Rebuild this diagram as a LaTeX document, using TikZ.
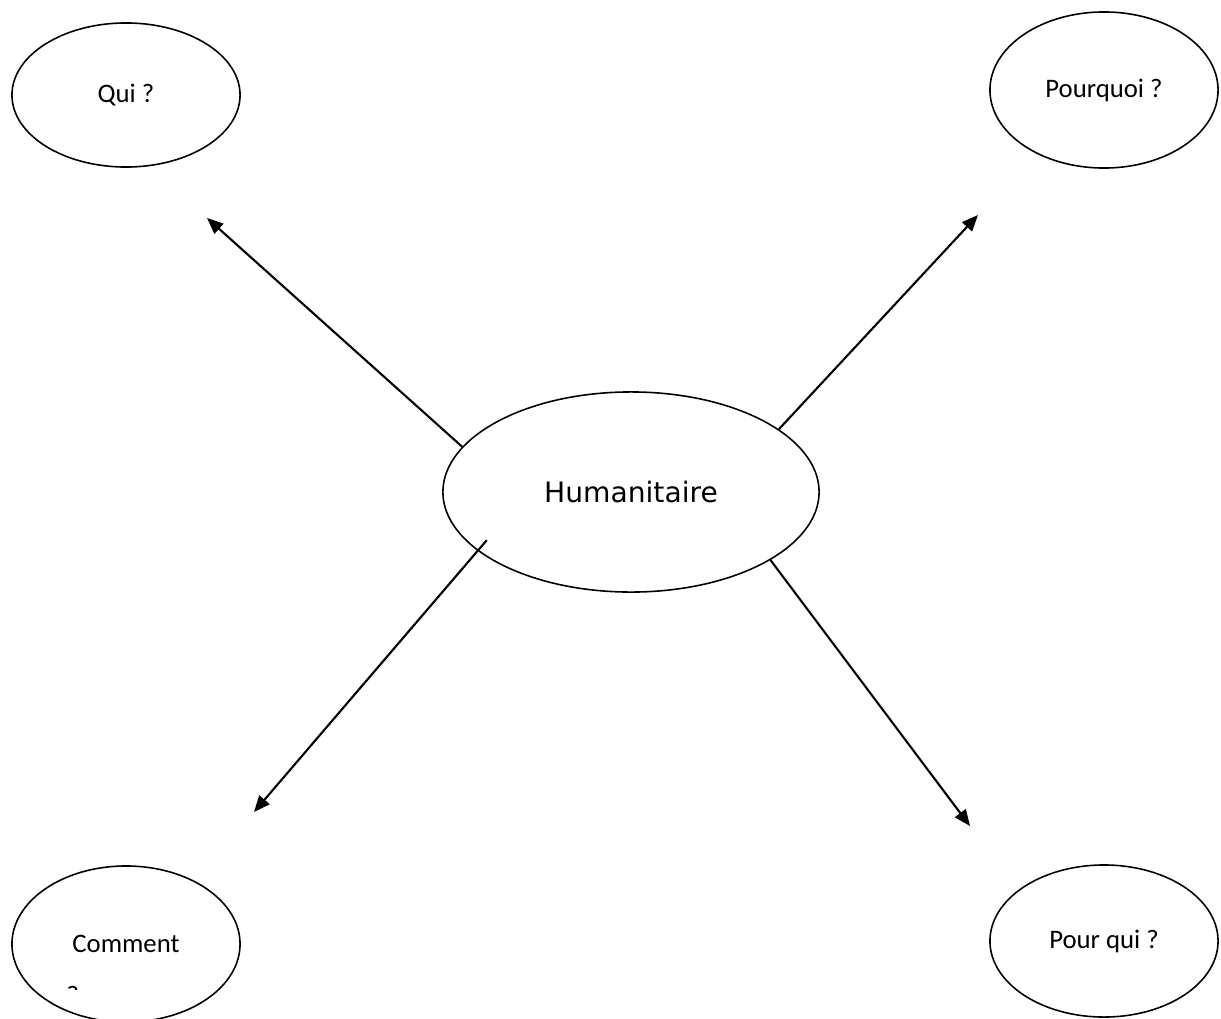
\documentclass[tikz,border=0pt]{standalone}
\usepackage{fontspec}
\setmainfont{Carlito}
\newfontfamily\humfont{DejaVu Sans}
\usetikzlibrary{shapes.geometric,arrows.meta}

\begin{document}
\begin{tikzpicture}[x=0.01cm,y=-0.01cm,
		bubble/.style={draw,ellipse,line width=0.45pt,inner sep=0pt,minimum width=2.28cm,font=\fontsize{7.6}{9}\selectfont},
		link/.style={line width=0.6pt,-{Triangle[length=4.6pt,width=3.8pt]}}]
	    \useasboundingbox (0,0) rectangle (1221,1018);
	    \clip (0,0) rectangle (1221,1018);
	    \node[draw,ellipse,line width=0.45pt,minimum width=3.76cm,minimum height=2cm,font=\humfont\fontsize{8}{10}\selectfont] at (631, 492) (hum) {Humanitaire};
	    \node[bubble,minimum height=1.44cm] at (126, 95) (qui) {Qui ?};
	    \node[bubble,minimum height=1.56cm] at (1104, 90) (pourquoi) {Pourquoi ?};
	    \node[bubble,minimum height=1.56cm] at (126, 944) (comment) {Comment};
	    \node[bubble,minimum height=1.52cm] at (1104, 941) (pourqui) {Pour qui ?};
	    \begin{scope}
	    \clip (0,0) rectangle (1221,989);
	    \node[anchor=north west,inner sep=0pt,font=\fontsize{7.6}{9}\selectfont] at (66, 986) (commentq) {?};
	    \end{scope}
	    
	    \coordinate (quiend) at (207, 218);
	    \coordinate (pourquoiend) at (978, 215);
	    \coordinate (commentend) at (254, 812);
	    \coordinate (pourquiend) at (970, 826);
	    
	    \draw[link] (hum.165) -- (quiend);
	    \draw[link] (hum.23) -- (pourquoiend);
	    \draw[link,shorten <=-4pt] (hum.201) -- (commentend);
	    \draw[link] (hum.334) -- (pourquiend);
	    
	    \end{tikzpicture}
\end{document}
